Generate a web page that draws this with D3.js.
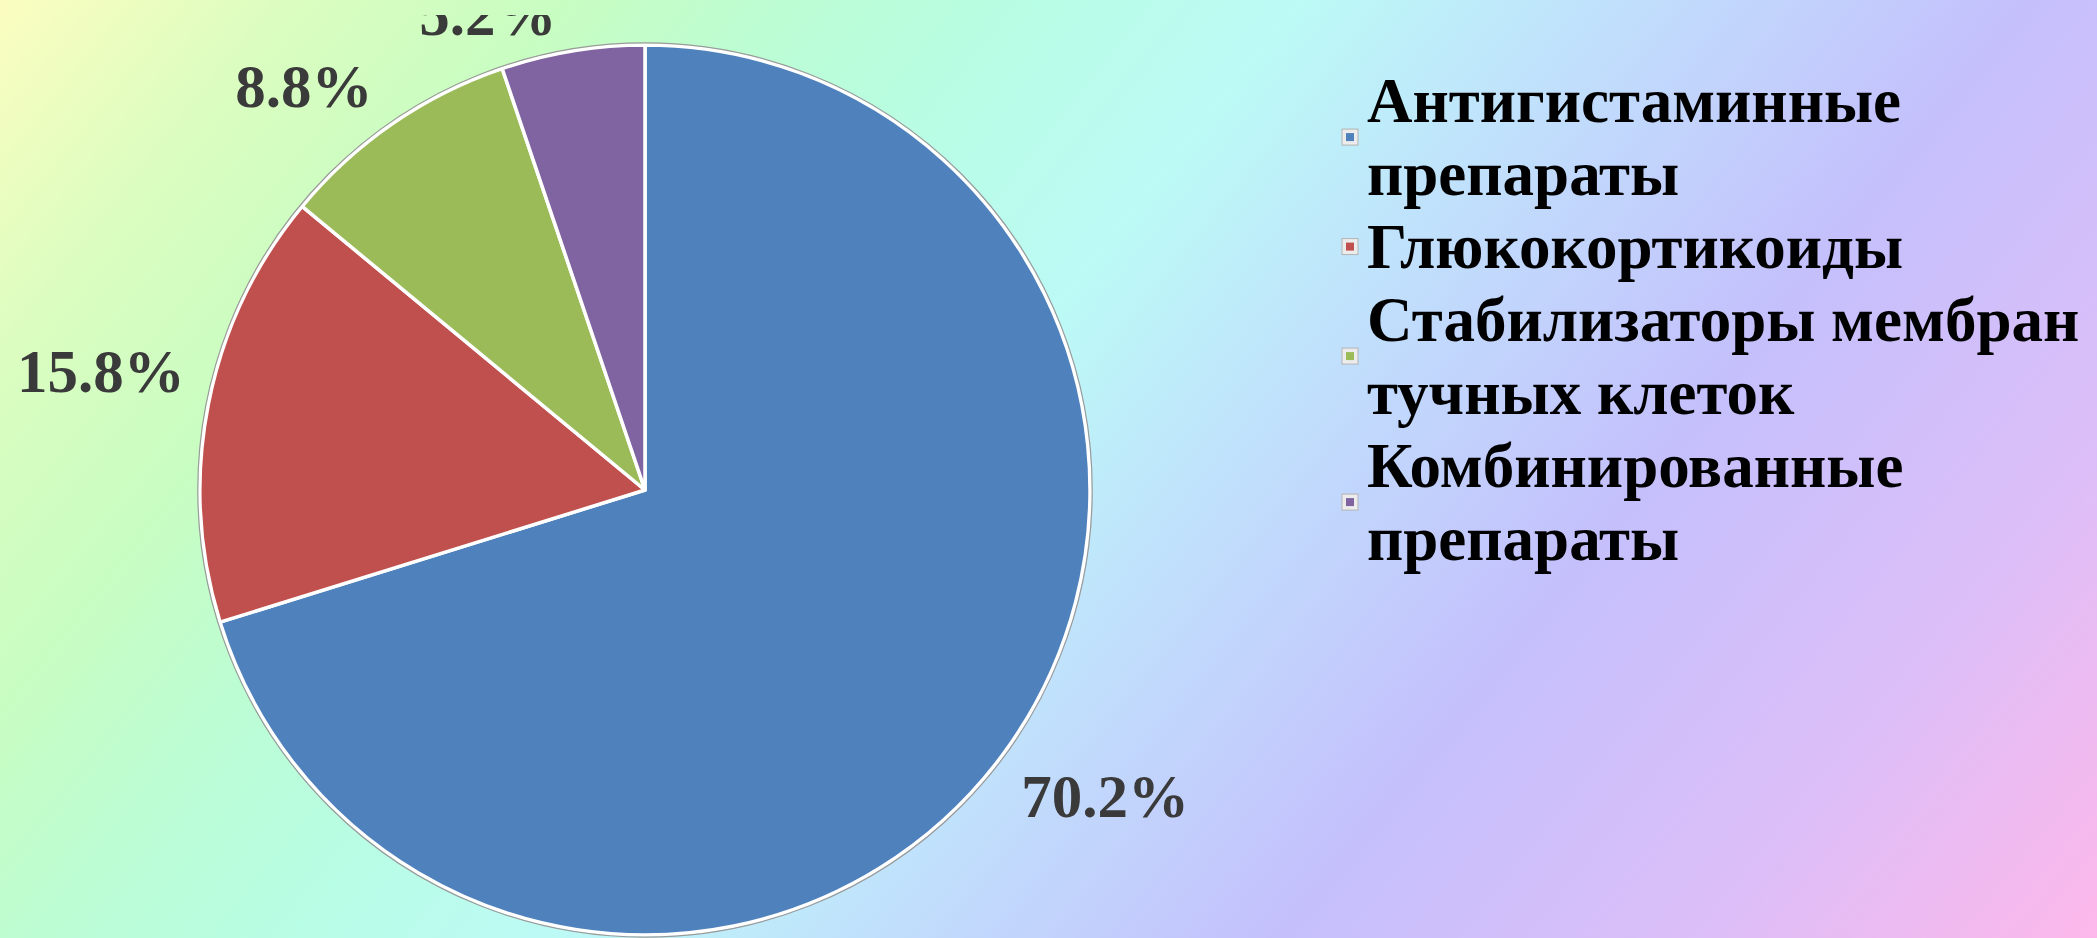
<!DOCTYPE html>
<html>
<head>
<meta charset="utf-8">
<script src="https://cdn.jsdelivr.net/npm/d3@7"></script>
<style>
  html, body { margin: 0; padding: 0; overflow: hidden; }
</style>
</head>
<body>
<script>
let w = 2097;
let h = 938;

// data
const categories = [
  "Антигистаминные\nпрепараты",
  "Глюкокортикоиды",
  "Стабилизаторы мембран\nтучных клеток",
  "Комбинированные\nпрепараты"
];
const values = [70.2, 15.8, 8.8, 5.2];
const valueLabels = ["70.2%", "15.8%", "8.8%", "5.2%"];
const colors = ["#4f81bd", "#c0504d", "#9bbb59", "#8064a2"];

// layout
let cx = 645, cy = 490, radius = 445;
let labelGap = 40;
let labelSize = 61;
// the office chart nudges its outside labels a bit
const labelNudge = [[2, 7], [14, -20], [-27, 13], [-67, 23]];
let legendX = 1367, legendTop = 122, legendLine = 73, legendSize = 63;
let clipTop = 15; // original chart area cut the top label

let svg = d3.select("body")
  .append("svg")
  .attr("width", w)
  .attr("height", h);

// background gradient
let defs = svg.append("defs");
let grad = defs.append("linearGradient")
  .attr("id", "bg")
  .attr("gradientUnits", "userSpaceOnUse")
  .attr("x1", 0).attr("y1", 0)
  .attr("x2", 1736).attr("y2", 1389);
[
  [0, "#fcfdc0"],
  [0.1, "#dcfdc0"],
  [0.2, "#c8fdc2"],
  [0.28, "#bcfdd4"],
  [0.36, "#b8fde4"],
  [0.46, "#bcfaf6"],
  [0.56, "#c0e2fc"],
  [0.71, "#c4c0fc"],
  [0.86, "#dcbef8"],
  [1, "#fdb8ea"]
].forEach(s => grad.append("stop").attr("offset", s[0]).attr("stop-color", s[1]));

defs.append("clipPath")
  .attr("id", "chartClip")
  .append("rect")
  .attr("x", 0)
  .attr("y", clipTop)
  .attr("width", w)
  .attr("height", h - clipTop);

svg.append("rect")
  .attr("width", w)
  .attr("height", h)
  .attr("fill", "url(#bg)");

// pie
let pie = d3.pie().sort(null).value(d => d);
let arcs = pie(values);
let arc = d3.arc().innerRadius(0).outerRadius(radius);

let g = svg.append("g").attr("transform", "translate(" + cx + "," + cy + ")");

g.selectAll("path.slice")
  .data(arcs)
  .enter()
  .append("path")
  .attr("class", "slice")
  .attr("d", arc)
  .attr("fill", (d, i) => colors[i])
  .attr("stroke", "#ffffff")
  .attr("stroke-width", 3.5)
  .attr("stroke-linejoin", "round");

g.append("circle")
  .attr("r", radius + 2.2)
  .attr("fill", "none")
  .attr("stroke", "#9a9a9a")
  .attr("stroke-width", 1.2);

// value labels, outside end
let labelLayer = svg.append("g").attr("clip-path", "url(#chartClip)")
  .append("g")
  .attr("transform", "translate(" + cx + "," + cy + ")");

let labels = labelLayer.selectAll("text.value")
  .data(arcs)
  .enter()
  .append("text")
  .attr("class", "value")
  .attr("text-anchor", "middle")
  .style("font-family", "'Liberation Serif', 'Times New Roman', serif")
  .style("font-weight", "bold")
  .style("font-size", labelSize + "px")
  .attr("fill", "#3a3a3a")
  .text((d, i) => valueLabels[i]);

labels.each(function(d, i) {
  let a = (d.startAngle + d.endAngle) / 2;
  let bw = this.getComputedTextLength();
  let capH = labelSize * 0.66;
  let px = (radius + labelGap) * Math.sin(a);
  let py = -(radius + labelGap) * Math.cos(a);
  let x = px + bw / 2 * Math.sin(a) + labelNudge[i][0];
  let y = py - capH / 2 * Math.cos(a) + labelNudge[i][1];
  d3.select(this).attr("x", x).attr("y", y + capH / 2);
});

// legend
let legend = svg.append("g").attr("class", "legend");
let lineIdx = 0;
categories.forEach((name, i) => {
  let lines = name.split("\n");
  let firstBase = legendTop + lineIdx * legendLine;
  let lastBase = firstBase + (lines.length - 1) * legendLine;
  lines.forEach((ln, j) => {
    legend.append("text")
      .attr("x", legendX)
      .attr("y", firstBase + j * legendLine)
      .style("font-family", "'Liberation Serif', 'Times New Roman', serif")
      .style("font-weight", "bold")
      .style("font-size", legendSize + "px")
      .attr("fill", "#000000")
      .text(ln);
  });
  let my = ((firstBase - legendSize * 0.8) + (lastBase + legendSize * 0.12)) / 2;
  legend.append("rect")
    .attr("x", legendX - 25)
    .attr("y", my - 8)
    .attr("width", 16)
    .attr("height", 16)
    .attr("fill", "#ececec")
    .attr("stroke", "#b4b4b4")
    .attr("stroke-width", 1);
  legend.append("rect")
    .attr("x", legendX - 21)
    .attr("y", my - 4)
    .attr("width", 8)
    .attr("height", 8)
    .attr("fill", colors[i]);
  lineIdx += lines.length;
});
</script>
</body>
</html>
